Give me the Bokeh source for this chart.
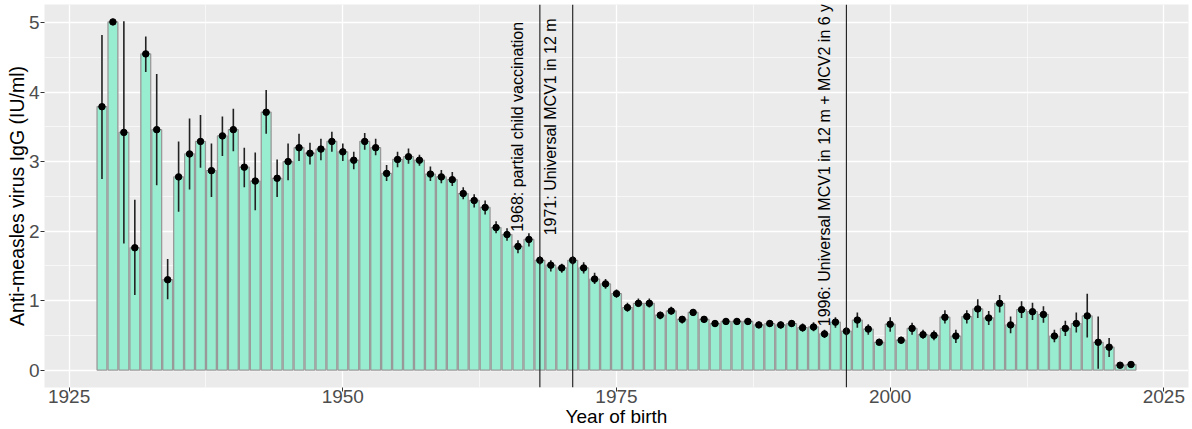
from bokeh.plotting import figure
from bokeh.models import Range1d, FixedTicker, Span, ColumnDataSource
from bokeh.core.properties import value
from bokeh.embed import file_html
from bokeh.resources import INLINE
import math

years = list(range(1928, 2023))
mean = [3.79, 5.01, 3.42, 1.76, 4.55, 3.46, 1.30, 2.78, 3.11, 3.29,
        2.87, 3.37, 3.46, 2.92, 2.72, 3.71, 2.76, 3.00, 3.20, 3.12,
        3.18, 3.29, 3.14, 3.02, 3.29, 3.20, 2.83, 3.03, 3.07, 3.02,
        2.82, 2.78, 2.74, 2.54, 2.44, 2.34, 2.05, 1.95, 1.78, 1.88,
        1.58, 1.51, 1.47, 1.58, 1.47, 1.31, 1.24, 1.10, 0.90, 0.96,
        0.96, 0.79, 0.85, 0.73, 0.83, 0.73, 0.67, 0.70, 0.70, 0.70,
        0.65, 0.67, 0.65, 0.67, 0.61, 0.62, 0.52, 0.69, 0.56, 0.72,
        0.59, 0.40, 0.66, 0.43, 0.60, 0.51, 0.50, 0.76, 0.49, 0.77,
        0.88, 0.75, 0.96, 0.65, 0.87, 0.84, 0.80, 0.49, 0.60, 0.67,
        0.78, 0.40, 0.33, 0.07, 0.08]
lower = [2.75, 5.01, 1.82, 1.08, 4.29, 2.66, 1.02, 2.28, 2.60, 2.91,
         2.49, 3.08, 3.15, 2.63, 2.30, 3.40, 2.49, 2.73, 3.01, 2.96,
         3.02, 3.14, 3.01, 2.89, 3.17, 3.09, 2.72, 2.92, 2.97, 2.94,
         2.72, 2.69, 2.65, 2.46, 2.34, 2.24, 1.97, 1.86, 1.68, 1.78,
         1.52, 1.42, 1.40, 1.52, 1.39, 1.24, 1.17, 1.04, 0.84, 0.91,
         0.90, 0.73, 0.80, 0.67, 0.78, 0.68, 0.62, 0.66, 0.65, 0.65,
         0.61, 0.62, 0.60, 0.62, 0.55, 0.56, 0.46, 0.61, 0.50, 0.61,
         0.51, 0.36, 0.55, 0.38, 0.51, 0.45, 0.43, 0.67, 0.39, 0.67,
         0.75, 0.65, 0.83, 0.53, 0.75, 0.72, 0.68, 0.40, 0.49, 0.54,
         0.47, 0.02, 0.19, 0.05, 0.06]
upper = [4.82, 5.01, 5.02, 2.45, 4.80, 4.26, 1.60, 3.29, 3.62, 3.67,
         3.26, 3.65, 3.76, 3.20, 3.13, 4.03, 3.03, 3.26, 3.40, 3.27,
         3.33, 3.43, 3.26, 3.14, 3.41, 3.33, 2.95, 3.14, 3.19, 3.10,
         2.93, 2.88, 2.85, 2.63, 2.53, 2.44, 2.14, 2.04, 1.87, 1.97,
         1.64, 1.58, 1.53, 1.64, 1.55, 1.40, 1.31, 1.16, 0.97, 1.03,
         1.03, 0.84, 0.91, 0.78, 0.88, 0.78, 0.72, 0.75, 0.75, 0.75,
         0.70, 0.71, 0.70, 0.72, 0.67, 0.69, 0.58, 0.76, 0.62, 0.83,
         0.66, 0.45, 0.76, 0.48, 0.68, 0.58, 0.57, 0.86, 0.58, 0.86,
         1.02, 0.85, 1.08, 0.77, 0.99, 0.97, 0.92, 0.58, 0.71, 0.83,
         1.10, 0.77, 0.46, 0.09, 0.10]

event_years = [1968, 1971, 1996]
event_labels = ["1968: partial child vaccination",
                "1971: Universal MCV1 in 12 m",
                "1996: Universal MCV1 in 12 m + MCV2 in 6 y"]
event_label_x = [1966, 1969, 1994]
event_label_y = [3.5, 3.5, 2.95]

x_ticks = [1925, 1950, 1975, 2000, 2025]
y_ticks = [0, 1, 2, 3, 4, 5]

FONT = "Liberation Sans"

p = figure(width=1192, height=429, output_backend="svg", toolbar_location=None,
           x_range=Range1d(1922.75, 2027.25), y_range=Range1d(-0.2505, 5.2605),
           min_border_left=44, min_border_right=4, min_border_top=4, min_border_bottom=41)
p.background_fill_color = "#EBEBEB"
p.border_fill_color = "white"
p.outline_line_color = None

src = ColumnDataSource(dict(x=years, m=mean, lo=lower, hi=upper))
p.vbar(x="x", top="m", bottom=0, width=0.9, source=src,
       fill_color="#98ECCF", line_color="#999999", line_width=1.3)
p.segment(x0="x", y0="lo", x1="x", y1="hi", source=src, line_color="#222222", line_width=1.6)
p.scatter(x="x", y="m", source=src, size=6.5, fill_color="black", line_color="black")

for ey in event_years:
    p.add_layout(Span(location=ey, dimension="height", line_color="#1a1a1a", line_width=1.1))

lsrc = ColumnDataSource(dict(x=event_label_x, y=event_label_y, t=event_labels))
p.text(x="x", y="y", text="t", source=lsrc, angle=math.pi / 2,
       text_align="center", text_baseline="middle",
       text_font=value(FONT), text_font_size="16px", text_color="black")

p.xaxis.ticker = FixedTicker(ticks=x_ticks, minor_ticks=[1937.5, 1962.5, 1987.5, 2012.5])
p.yaxis.ticker = FixedTicker(ticks=y_ticks, minor_ticks=[0.5, 1.5, 2.5, 3.5, 4.5])

for ax in (p.xaxis, p.yaxis):
    ax.axis_line_color = None
    ax.major_tick_line_color = "#333333"
    ax.major_tick_in = 0
    ax.major_tick_out = 4
    ax.minor_tick_line_color = None
    ax.major_label_text_font = FONT
    ax.major_label_text_font_size = "19px"
    ax.major_label_text_color = "#4D4D4D"
    ax.axis_label_text_font = FONT
    ax.axis_label_text_font_style = "normal"
    ax.axis_label_text_color = "black"

p.xaxis.major_label_standoff = -2
p.xaxis.axis_label_standoff = 0
p.yaxis.major_label_standoff = 1
p.yaxis.axis_label_standoff = -2

p.xaxis.axis_label = "Year of birth"
p.yaxis.axis_label = "Anti-measles virus IgG (IU/ml)"
p.xaxis.axis_label_text_font_size = "19px"
p.yaxis.axis_label_text_font_size = "19.5px"

p.xgrid.grid_line_color = "white"
p.ygrid.grid_line_color = "white"
p.xgrid.grid_line_width = 1.3
p.ygrid.grid_line_width = 1.3
p.xgrid.minor_grid_line_color = "white"
p.ygrid.minor_grid_line_color = "white"
p.xgrid.minor_grid_line_width = 0.6
p.ygrid.minor_grid_line_width = 0.6

open("out.html", "w").write(file_html(p, INLINE))
